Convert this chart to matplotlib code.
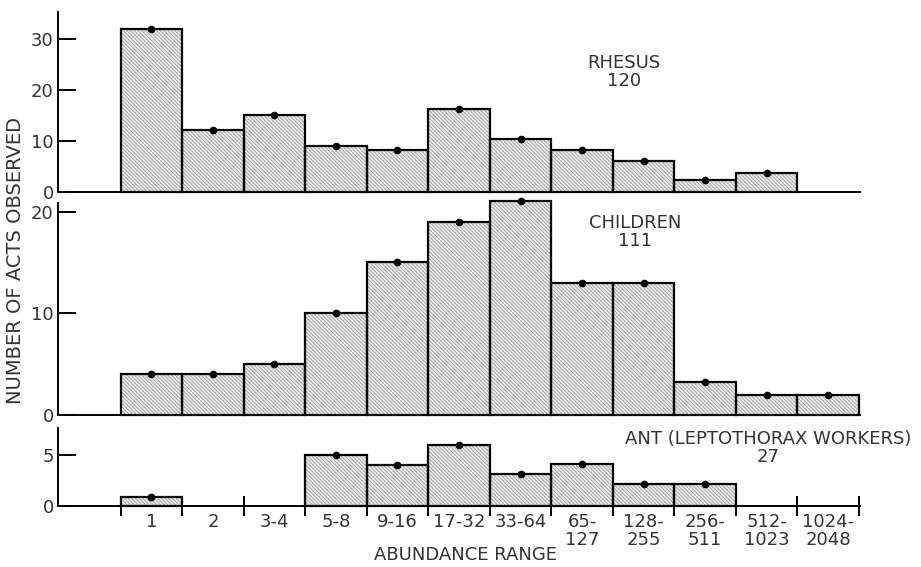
import matplotlib.pyplot as plt
import numpy as np

plt.rcParams['font.family'] = ['DejaVu Sans']
plt.rcParams['hatch.linewidth'] = 0.5

ranges = ["1", "2", "3-4", "5-8", "9-16", "17-32", "33-64", "65-\n127",
          "128-\n255", "256-\n511", "512-\n1023", "1024-\n2048"]

rhesus = [32, 12.2, 15.1, 9.1, 8.2, 16.3, 10.3, 8.2, 6.1, 2.4, 3.7, 0]
children = [4, 4, 5, 10, 15, 19, 21, 13, 13, 3.2, 2, 2]
ant = [0.9, 0, 0, 5, 4, 6, 3.1, 4.1, 2.2, 2.2, 0, 0]

panels = [
    ("RHESUS\n120", rhesus, [0, 10, 20, 30], 35.3),
    ("CHILDREN\n111", children, [0, 10, 20], 20.85),
    ("ANT (LEPTOTHORAX WORKERS)\n27", ant, [0, 5], 7.65),
]

W, H = 921, 567
fig = plt.figure(figsize=(W / 100, H / 100), dpi=100)

# axes boxes in pixels: (y of zero line, y of spine top)
boxes = [(192, 12), (415, 203), (506, 428)]
label_pos = [(624, 72), (635, 232), (768, 448)]

x = np.arange(len(ranges))
txt_color = '#333333'

for (name, vals, yticks, ymax), (y0, ytop), (lx, ly) in zip(panels, boxes, label_pos):
    ax = fig.add_axes([58 / W, (H - y0) / H, (860 - 58) / W, (y0 - ytop) / H])
    vals = np.array(vals, dtype=float)
    show = vals > 0
    ax.bar(x[show] + 0.5, vals[show], width=1.0, color='#e6e6e6',
           edgecolor='#9a9a9a', hatch='\\' * 9, linewidth=0, clip_on=False)
    ax.bar(x[show] + 0.5, vals[show], width=1.0, fill=False,
           edgecolor='black', linewidth=1.6, clip_on=False)
    ax.plot(x[show] + 0.5, vals[show], 'o', color='black', ms=4.5,
            clip_on=False)

    ax.set_xlim(-1.02, 12.02)
    ax.set_ylim(0, ymax)
    ax.set_yticks(yticks)
    ax.tick_params(axis='y', direction='in', length=13, width=1.4,
                   labelsize=13, pad=3, labelcolor=txt_color)
    for s in ['top', 'right']:
        ax.spines[s].set_visible(False)
    ax.spines['left'].set_linewidth(1.4)
    ax.spines['bottom'].set_linewidth(1.4)
    ax.patch.set_alpha(0)

    if name.startswith("ANT"):
        ax.set_xticks(np.arange(0, 13))
        ax.set_xticklabels([])
        ax.set_xticks(x + 0.5, minor=True)
        ax.set_xticklabels(ranges, minor=True, fontsize=13, color=txt_color,
                           linespacing=1.0, va='top')
        ax.tick_params(axis='x', which='major', direction='inout', length=14,
                       width=1.4)
        ax.tick_params(axis='x', which='minor', length=0, pad=5)
    else:
        ax.set_xticks([])

    fig.text(lx / W, 1 - ly / H, name, ha='center', va='center',
             fontsize=13, color=txt_color, linespacing=1.0)

fig.text(16 / W, 1 - 260 / H, "NUMBER OF ACTS OBSERVED", rotation=90,
         ha='center', va='center', fontsize=14, color=txt_color)
fig.text(465 / W, 1 - 555 / H, "ABUNDANCE RANGE", ha='center',
         va='center', fontsize=13, color=txt_color)

fig.savefig("out.png", dpi=100, facecolor='white')
